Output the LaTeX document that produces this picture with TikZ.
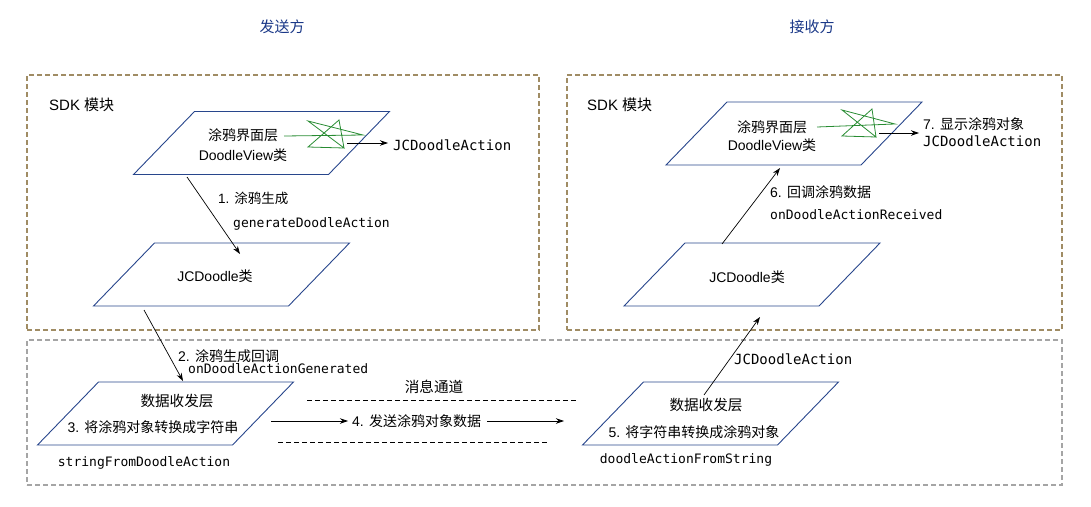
\documentclass[tikz,border=0pt]{standalone}
\usepackage{fontspec}
\setmainfont{Liberation Sans}
\setmonofont{DejaVu Sans Mono}
\newfontfamily\cjk{Noto Sans CJK SC}
\usetikzlibrary{arrows.meta}
\definecolor{boxorange}{RGB}{160,140,100}
\definecolor{boxgrey}{RGB}{165,165,165}
\definecolor{parablue}{RGB}{40,70,140}
\definecolor{titleblue}{RGB}{25,55,135}
\definecolor{stargreen}{RGB}{40,140,50}
\begin{document}
\begin{tikzpicture}[x=1pt,y=-1pt,
  paraline/.style={draw=parablue, line width=0.9pt, line join=miter},
  para/.pic={\draw[paraline] (-128,31.5) coordinate (-bl) -- (-67,-31.5) coordinate (-tl) -- (128,-31.5) coordinate (-tr) -- (67,31.5) coordinate (-br) -- cycle;},
  orangebox/.style={draw=boxorange, line width=1.6pt, dash pattern=on 5pt off 3pt, inner sep=0pt},
  greybox/.style={draw=boxgrey, line width=1.6pt, dash pattern=on 5pt off 3pt, inner sep=0pt},
  conn/.style={draw=black, line width=0.7pt, -{Stealth[length=8pt,width=5.5pt]}},
  chan/.style={draw=black, line width=0.8pt, dash pattern=on 4.5pt off 3.5pt},
  star/.style={draw=stargreen, line width=0.8pt, line join=miter},
  txt/.style={font=\fontsize{14}{16}\selectfont, inner sep=0pt},
  txtsm/.style={font=\fontsize{13.5}{16}\selectfont, inner sep=0pt},
  big/.style={font=\fontsize{14.6}{17}\selectfont, inner sep=0pt},
  sdk/.style={font=\fontsize{15}{17}\selectfont, inner sep=0pt},
  title/.style={font=\fontsize{15}{17}\selectfont\cjk, text=titleblue, inner sep=0pt},
  mono/.style={font=\ttfamily\fontsize{13}{15}\selectfont, inner sep=0pt},
  monob/.style={font=\ttfamily\fontsize{14}{16}\selectfont, inner sep=0pt}
]
\useasboundingbox (0,0) rectangle (1091,506);

% containers
\node[orangebox, minimum width=512pt, minimum height=255pt] (sendsdk) at (283,202.5) {};
\node[orangebox, minimum width=495pt, minimum height=255pt] (recvsdk) at (814.5,202.5) {};
\node[greybox, minimum width=1035pt, minimum height=145pt] (channel) at (544.5,412.5) {};

% titles
\node[title] (t1) at (282,27) {发送方};
\node[title] (t2) at (812,27) {接收方};
\node[sdk, anchor=west] (sdk1) at (49,105) {SDK {\cjk 模块}};
\node[sdk, anchor=west] (sdk2) at (587,105) {SDK {\cjk 模块}};

% parallelograms
\pic (view1) at (261.5,143) {para};
\pic (doodle1) at (221.5,274.5) {para};
\pic (data1) at (165.5,413.5) {para};
\pic (data2) at (710.5,413.5) {para};
\pic (view2) at (794,133.5) {para};
\pic (doodle2) at (752,274.5) {para};

% texts in shapes
\node[txt] (v1a) at (243,135) {\cjk 涂鸦界面层};
\node[txt] (v1b) at (243,155) {DoodleView{\cjk 类}};
\node[txt] (d1) at (215,276) {JCDoodle{\cjk 类}};
\node[big] (r1a) at (177,401) {\cjk 数据收发层};
\node[txt] (r1b) at (153,427) {3. {\cjk 将涂鸦对象转换成字符串}};
\node[mono] (s1) at (144,463) {stringFromDoodleAction};
\node[big] (r2a) at (706,405) {\cjk 数据收发层};
\node[txt] (r2b) at (694,432) {5. {\cjk 将字符串转换成涂鸦对象}};
\node[mono] (s2) at (686,460) {doodleActionFromString};
\node[txt] (v2a) at (772,127) {\cjk 涂鸦界面层};
\node[txt] (v2b) at (772,145) {DoodleView{\cjk 类}};
\node[txt] (d2) at (747,277) {JCDoodle{\cjk 类}};

% green scribble stars
\draw[star] (284,136) -- (363,135) -- (308,121) -- (344,148) -- (339,120) -- (308,147) -- (344,148);
\draw[star] (817,127) -- (895,124) -- (842,110) -- (876,137) -- (872,109) -- (842,136) -- (876,137);

% labels
\node[monob, anchor=west] (jc1) at (393,145) {JCDoodleAction};
\node[txtsm, anchor=west] (l1a) at (218,198) {1. {\cjk 涂鸦生成}};
\node[mono, anchor=west] (l1b) at (233,224) {generateDoodleAction};
\node[txt, anchor=west] (l2a) at (178,356) {2. {\cjk 涂鸦生成回调}};
\node[mono, anchor=west] (l2b) at (188,369) {onDoodleActionGenerated};
\node[big] (ch) at (434,387) {\cjk 消息通道};
\node[txt, anchor=west] (l4) at (352,421) {4. {\cjk 发送涂鸦对象数据}};
\node[monob, anchor=west] (jc2) at (734,359) {JCDoodleAction};
\node[txt, anchor=west] (l6a) at (770,192) {6. {\cjk 回调涂鸦数据}};
\node[mono, anchor=west] (l6b) at (770,215) {onDoodleActionReceived};
\node[txt, anchor=west] (l7a) at (923,124) {7. {\cjk 显示涂鸦对象}};
\node[monob, anchor=west] (l7b) at (923,141) {JCDoodleAction};

% connector end points
\coordinate (s1o) at (347,143);
\coordinate (s1i) at (388,143);
\coordinate (a1s) at (187,177);
\coordinate (a1e) at (240,254);
\coordinate (a2s) at (144,310);
\coordinate (a2e) at (183,381);
\coordinate (a4s) at (271,421);
\coordinate (a4e) at (564,421);
\coordinate (a5s) at (704,395);
\coordinate (a5e) at (760,317);
\coordinate (a6s) at (722,244);
\coordinate (a6e) at (780,168);
\coordinate (s2o) at (879,133);
\coordinate (s2i) at (919,133);

% connectors
\draw[conn] (s1o) -- (s1i);
\draw[conn] (a1s) -- (a1e);
\draw[conn] (a2s) -- (a2e);
\draw[conn, shorten >=4pt] (a4s) -- (l4.west);
\draw[conn, shorten <=6pt] (l4.east) -- (a4e);
\draw[conn] (a5s) -- (a5e);
\draw[conn] (a6s) -- (a6e);
\draw[conn] (s2o) -- (s2i);

% message channel dashed lines
\coordinate (ch1a) at (307,400);
\coordinate (ch1b) at (577,400);
\coordinate (ch2a) at (278,442);
\coordinate (ch2b) at (547,442);
\draw[chan] (ch1a) -- (ch1b);
\draw[chan] (ch2a) -- (ch2b);
\end{tikzpicture}
\end{document}
